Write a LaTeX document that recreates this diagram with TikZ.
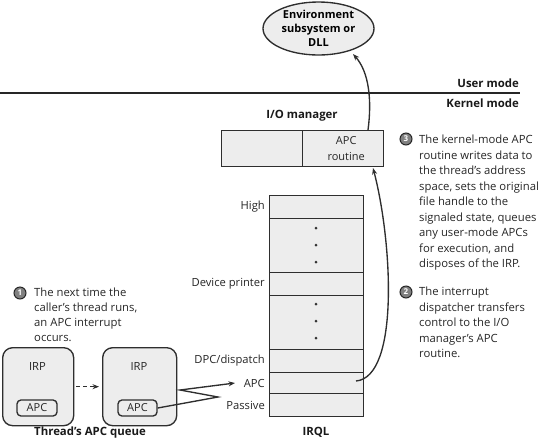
\documentclass[tikz,border=0pt]{standalone}
\usepackage{fontspec}
\setmainfont{Open Sans}
\usetikzlibrary{arrows.meta,shapes.geometric}
\begin{document}
\begin{tikzpicture}[x=1pt,y=-1pt,
  ink/.style={draw=black!82, line width=1.35pt},
  cell/.style={ink, fill=black!7, inner sep=0pt, anchor=north west},
  lbl/.style={font=\fontsize{11.2}{13}\selectfont, text=black!85, inner sep=0pt},
  hd/.style={font=\bfseries\fontsize{11.4}{13}\selectfont, text=black!90, inner sep=0pt},
  num/.style={circle, fill=black!50, draw=black!85, line width=1pt, minimum size=12pt, inner sep=0pt, font=\bfseries\fontsize{8}{8}\selectfont, text=white},
  note/.style={align=left, anchor=north west, inner sep=0pt, text=black!85, font=\fontsize{11.3}{15.5}\selectfont},
  arr/.style={ink, -{Stealth[length=6.5pt,width=5pt]}},
  irp/.style={ink, fill=black!7, rounded corners=10pt, inner sep=0pt, anchor=north west},
  apcb/.style={ink, fill=black!7, rounded corners=4pt, inner sep=0pt, minimum height=16pt, font=\fontsize{11}{12}\selectfont, text=black!85}
]
\useasboundingbox (0,0) rectangle (540,440);

% ellipse
\node[ellipse, ink, fill=black!7, minimum width=111pt, minimum height=53pt, inner sep=0pt, align=center,
      font=\bfseries\fontsize{11}{14}\selectfont] (env) at (318.5,28.5) {Environment\\subsystem or\\DLL};

% mode line
\coordinate (ml) at (0,93);
\coordinate (mr) at (520,93);
\draw[draw=black!85, line width=2.8pt] (ml) -- (mr);
\node[hd, anchor=base east] (um) at (519,87) {User mode};
\node[hd, anchor=base east] (km) at (519,107) {Kernel mode};

% I/O manager
\node[hd] (iom) at (302,116) {I/O manager};
\node[cell, minimum width=81pt, minimum height=36pt] (iol) at (221,130) {};
\node[cell, minimum width=81pt, minimum height=36pt, align=center, font=\fontsize{11}{16}\selectfont, text=black!85] (apcr) at (302,130) {\hspace*{6pt}APC\\\hspace*{6pt}routine};

% IRQL stack
\node[cell, minimum width=94pt, minimum height=23pt] (rhigh) at (269,195) {};
\node[cell, minimum width=94pt, minimum height=54pt] (rdots1) at (269,218) {};
\node[cell, minimum width=94pt, minimum height=23pt] (rdev) at (269,272) {};
\node[cell, minimum width=94pt, minimum height=54pt] (rdots2) at (269,295) {};
\node[cell, minimum width=94pt, minimum height=23pt] (rdpc) at (269,349) {};
\node[cell, minimum width=94pt, minimum height=21pt] (rapc) at (269,372) {};
\node[cell, minimum width=94pt, minimum height=23pt] (rpas) at (269,393) {};
\foreach \y in {228,245,262,304,321,338} \fill[black!80] (316,\y) circle (1.5pt);

\node[lbl, anchor=east] (lhigh) at (265,207) {High};
\node[lbl, anchor=east] (ldev) at (265,284) {Device printer};
\node[lbl, anchor=east] (ldpc) at (265,361) {DPC/dispatch};
\node[lbl, anchor=east] (lapc) at (265,383) {APC};
\node[lbl, anchor=east] (lpas) at (265,405) {Passive};
\node[hd] (irql) at (316,432.5) {IRQL};

% IRP queue
\node[irp, minimum width=71pt, minimum height=78pt] (irp1) at (2,347) {};
\node[irp, minimum width=74pt, minimum height=78pt] (irp2) at (102,347) {};
\node[lbl] (irpt1) at (37.5,366) {IRP};
\node[lbl] (irpt2) at (139,366) {IRP};
\node[apcb, minimum width=40pt] (apc1) at (37,408) {APC};
\node[apcb, minimum width=39pt] (apc2) at (137.5,408) {APC};
\node[hd] (queue) at (90,433) {Thread's APC queue};

\draw[arr, dashed, dash pattern=on 4pt off 3pt, shorten <=2pt, shorten >=3pt] (irp1.east) -- (irp2.west);

% zigzag
\coordinate (z1) at (218,397);
\coordinate (z2) at (180,390);
\coordinate (z3) at (235,383);
\draw[arr] (apc2.east) -- (z1) -- (z2) -- (z3);

% curve from APC level to APC routine
\coordinate (s2) at (356,381);
\coordinate (t2) at (373,168);
\draw[arr] (s2) .. controls (400,377) and (392,240) .. (t2);

% curve from APC routine to environment subsystem
\coordinate (s3) at (368,130);
\coordinate (t3) at (353,54);
\draw[arr] (s3) .. controls (372,100) and (369,72) .. (t3);

% notes
\node[num] (n3) at (406,139) {3};
\node[note] (note3) at (419,135) {The kernel-mode APC\\routine writes data to\\the thread's address\\space, sets the original\\file handle to the\\signaled state, queues\\any user-mode APCs\\for execution, and\\disposes of the IRP.};
\node[num] (n2) at (406,292) {2};
\node[note] (note2) at (419,287) {The interrupt\\dispatcher transfers\\control to the I/O\\manager's APC\\routine.};
\node[num] (n1) at (20,293) {1};
\node[note, font=\fontsize{11.3}{14.8}\selectfont] (note1) at (34,288) {The next time the\\caller's thread runs,\\an APC interrupt\\occurs.};
\end{tikzpicture}
\end{document}
